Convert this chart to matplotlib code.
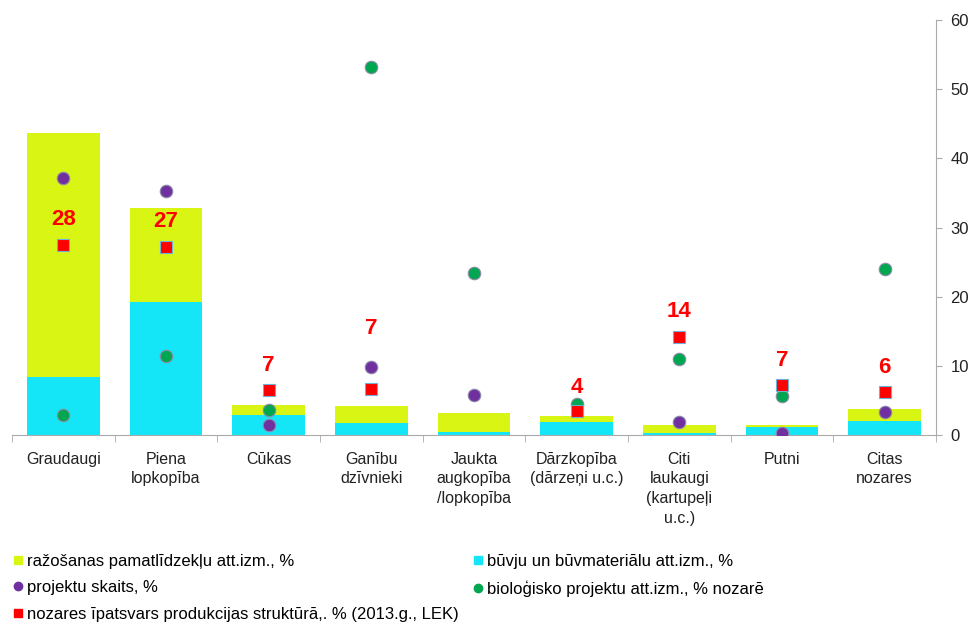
import numpy as np
import matplotlib.pyplot as plt
from matplotlib.lines import Line2D

plt.rcParams['font.family'] = ['Liberation Sans', 'DejaVu Sans']

# Sectors
categories = ["Graudaugi", "Piena\nlopkopība", "Cūkas", "Ganību\ndzīvnieki",
              "Jaukta\naugkopība\n/lopkopība", "Dārzkopība\n(dārzeņi u.c.)",
              "Citi\nlaukaugi\n(kartupeļi\nu.c.)", "Putni", "Citas\nnozares"]

# stacked bars, %
buildings = [8.4, 19.2, 2.9, 1.7, 0.4, 1.9, 0.3, 1.1, 2.0]
equipment = [35.2, 13.6, 1.4, 2.5, 2.8, 0.8, 1.1, 0.3, 1.8]

# points, %
projects = [37.1, 35.3, 1.4, 9.8, 5.8, None, 1.9, 0.3, 3.3]
organic = [2.9, 11.4, 3.6, 53.2, 23.4, 4.5, 11.0, 5.6, 24.0]
share_2013 = [27.5, 27.2, 6.5, 6.6, None, 3.5, 14.2, 7.2, 6.2]
share_labels = ["28", "27", "7", "7", "", "4", "14", "7", "6"]
label_offset_pt = [18, 18, 18, 44, 18, 17, 18, 18, 18]

c_yellow = "#D9F514"
c_cyan = "#14E6F8"
c_purple = "#7030A0"
c_green = "#00A650"
c_red = "#FF0000"

fig = plt.figure(figsize=(9.72, 6.23), dpi=100)
ax = fig.add_axes([12 / 972, 188 / 623, 924 / 972, 415 / 623])

x = np.arange(len(categories))
ax.bar(x, buildings, width=0.71, color=c_cyan, zorder=2)
ax.bar(x, equipment, width=0.71, bottom=buildings, color=c_yellow, zorder=2)

def pts(vals):
    xs = [i for i, v in enumerate(vals) if v is not None]
    return xs, [vals[i] for i in xs]

px, py = pts(projects)
ax.plot(px, py, 'o', ms=9, color=c_purple, mec="#8C8CA8", mew=0.8, ls='none', zorder=3)
gx, gy = pts(organic)
ax.plot(gx, gy, 'o', ms=9, color=c_green, mec="#8C8CA8", mew=0.8, ls='none', zorder=3)
rx, ry = pts(share_2013)
ax.plot(rx, ry, 's', ms=9, color=c_red, mec="#6FB0D8", mew=0.8, ls='none', zorder=4)

for i, v in enumerate(share_2013):
    if v is None:
        continue
    ax.annotate(share_labels[i], (i, v), xytext=(0, label_offset_pt[i]),
                textcoords='offset points', ha='center', va='center',
                color=c_red, fontsize=16, fontweight='bold', zorder=5)

ax.set_xlim(-0.5, len(categories) - 0.5)
ax.set_ylim(0, 60)
ax.yaxis.tick_right()
ax.set_yticks(range(0, 61, 10))
ax.tick_params(axis='y', colors="#AAAAAA", labelcolor="#222222", labelsize=12,
               direction='out', length=4.5, pad=6)
ax.set_xticks(x)
ax.set_xticklabels(categories, fontsize=11.5, linespacing=1.4, color="#222222")
ax.set_xticks(np.arange(-0.5, len(categories), 1), minor=True)
ax.tick_params(axis='x', which='major', length=0, pad=12)
ax.tick_params(axis='x', which='minor', length=5, color="#AAAAAA")

for side in ['top', 'left']:
    ax.spines[side].set_visible(False)
ax.spines['bottom'].set_color("#AAAAAA")
ax.spines['right'].set_color("#AAAAAA")

handles = [
    Line2D([], [], marker='s', ls='none', ms=6, color=c_yellow, label="ražošanas pamatlīdzekļu att.izm., %"),
    Line2D([], [], marker='o', ls='none', ms=6, color=c_purple, label="projektu skaits, %"),
    Line2D([], [], marker='s', ls='none', ms=6, color=c_red, label="nozares īpatsvars produkcijas struktūrā,. % (2013.g., LEK)"),
    Line2D([], [], marker='s', ls='none', ms=6, color=c_cyan, label="būvju un būvmateriālu att.izm., %"),
    Line2D([], [], marker='o', ls='none', ms=6, color=c_green, label="bioloģisko projektu att.izm., % nozarē"),
]
fig.legend(handles=handles, ncol=2, loc='upper left', bbox_to_anchor=(0.005, 0.122),
           frameon=False, fontsize=12, handletextpad=0.1, handlelength=0.8,
           columnspacing=0.8, labelspacing=0.7, borderaxespad=0)

fig.savefig("out.png", dpi=100)
